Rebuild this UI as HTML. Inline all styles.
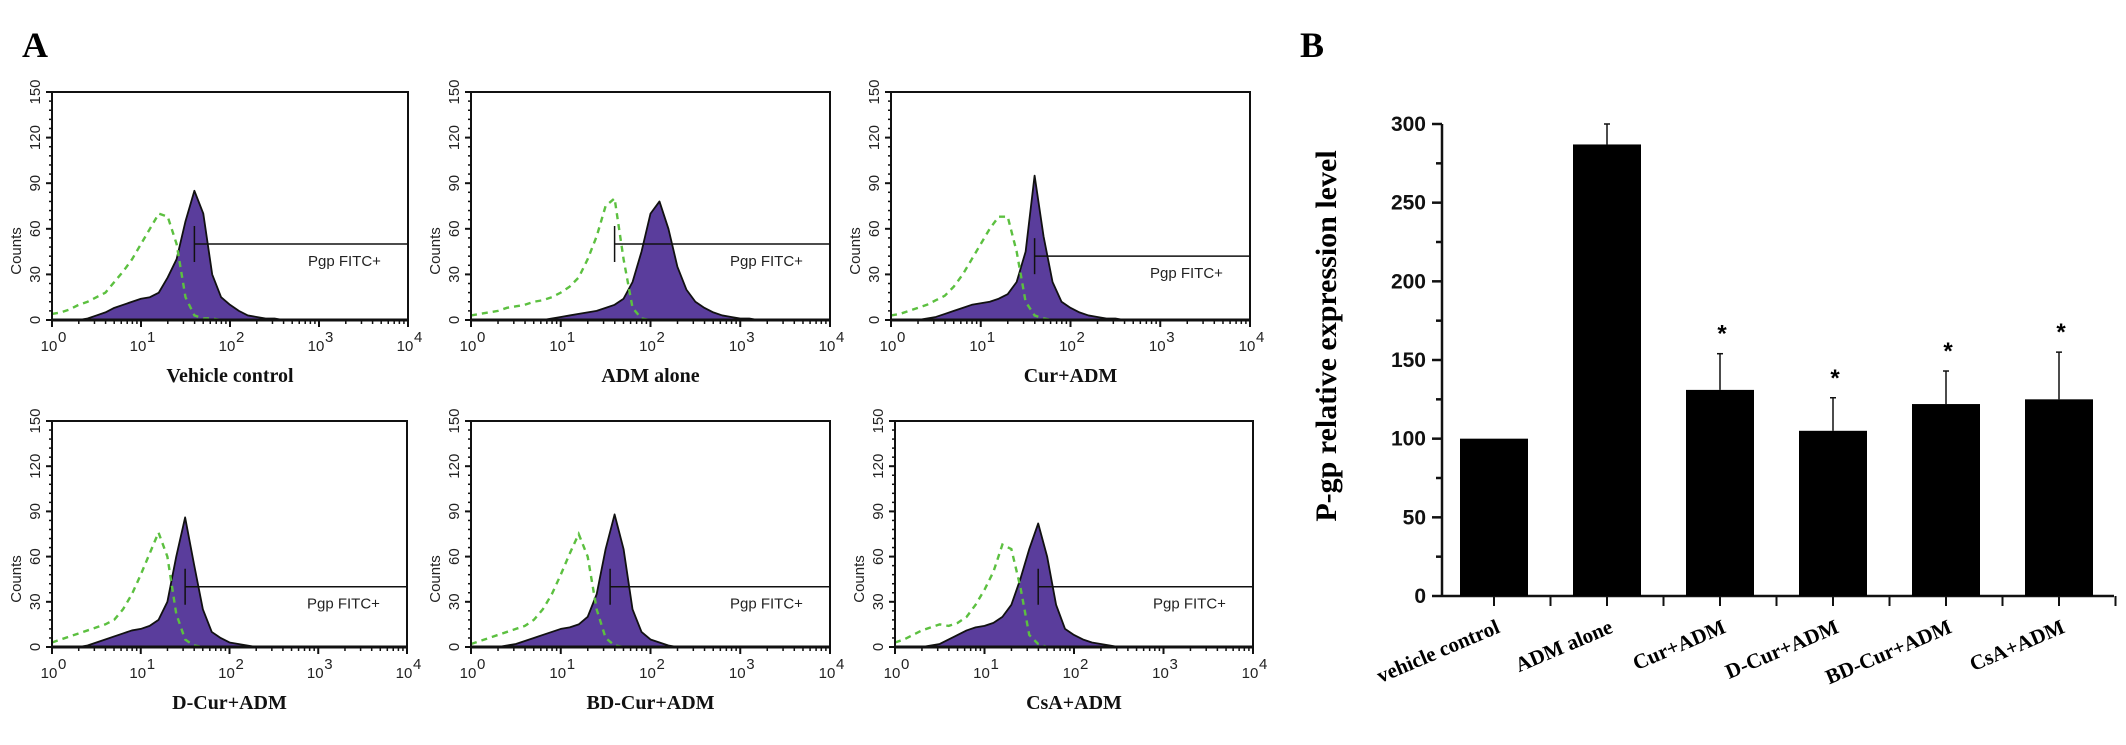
<!DOCTYPE html>
<html><head><meta charset="utf-8"><style>
body{margin:0;background:#fff;width:2126px;height:745px;overflow:hidden}
svg{display:block}
.tick{font-family:"Liberation Sans",sans-serif;font-size:15px;fill:#222}
.cap{font-family:"Liberation Serif",serif;font-weight:bold;font-size:20px;fill:#111}
.yt{font-family:"Liberation Sans",sans-serif;font-weight:bold;font-size:21px;fill:#111}
</style></head><body>
<svg id="fig" width="2126" height="745" viewBox="0 0 2126 745">
<text x="22" y="57" font-family="Liberation Serif,serif" font-weight="bold" font-size="36">A</text>
<text x="1300" y="57" font-family="Liberation Serif,serif" font-weight="bold" font-size="36">B</text>
<g id="hists"></g>
<g id="bars"></g>
</svg>
<script>
// ---- Histogram data (counts at log10 bins 0.0..4.0 step 0.1) ----
const histTitles=["Vehicle control","ADM alone","Cur+ADM","D-Cur+ADM","BD-Cur+ADM","CsA+ADM"];
const purpleVehicle=[0,0,0,0,1,3,5,8,10,12,14,15,18,28,40,65,85,70,30,15,10,6,3,2,1,1,0,0,0,0,0,0,0,0,0,0,0,0,0,0,0];
const greenVehicle=[4,5,7,10,12,15,18,25,32,40,50,60,70,68,50,15,3,1,1,0,0,0,0,0,0,0,0,0,0,0,0,0,0,0,0,0,0,0,0,0,0];
const purpleADM=[0,0,0,0,0,0,0,0,0,1,2,3,4,5,6,8,10,14,25,45,70,78,60,35,20,12,8,5,3,2,1,1,0,0,0,0,0,0,0,0,0];
const greenADM=[3,4,5,6,8,9,10,12,13,15,18,22,28,40,55,75,80,40,8,1,0,0,0,0,0,0,0,0,0,0,0,0,0,0,0,0,0,0,0,0,0];
const purpleCur=[0,0,0,0,1,2,4,6,8,10,11,12,14,17,25,45,95,55,25,12,8,5,3,2,1,1,0,0,0,0,0,0,0,0,0,0,0,0,0,0,0];
const greenCur=[3,4,6,8,10,13,16,22,30,40,50,60,68,68,45,12,3,1,0,0,0,0,0,0,0,0,0,0,0,0,0,0,0,0,0,0,0,0,0,0,0];
const purpleDCur=[0,0,0,0,1,3,5,7,9,11,12,14,18,30,60,86,55,25,10,6,3,2,1,0,0,0,0,0,0,0,0,0,0,0,0,0,0,0,0,0,0];
const greenDCur=[3,5,7,9,11,13,15,18,25,35,48,62,76,60,22,5,1,0,0,0,0,0,0,0,0,0,0,0,0,0,0,0,0,0,0,0,0,0,0,0,0];
const purpleBDCur=[0,0,0,0,1,2,4,6,8,10,12,13,15,20,35,65,88,65,25,10,5,3,1,0,0,0,0,0,0,0,0,0,0,0,0,0,0,0,0,0,0];
const greenBDCur=[2,4,6,8,10,12,14,18,25,35,48,62,75,60,25,6,1,0,0,0,0,0,0,0,0,0,0,0,0,0,0,0,0,0,0,0,0,0,0,0,0];
const purpleCsA=[0,0,0,0,1,2,5,8,11,13,14,16,20,28,45,65,82,60,28,12,8,5,3,2,1,0,0,0,0,0,0,0,0,0,0,0,0,0,0,0,0];
const greenCsA=[3,5,8,11,13,15,14,16,20,28,38,50,68,65,40,8,2,0,0,0,0,0,0,0,0,0,0,0,0,0,0,0,0,0,0,0,0,0,0,0,0];
const gateStart=[1.6,1.6,1.6,1.5,1.55,1.6];
const gateLevel=[50,50,42,40,40,40];
const purpleSeries=[purpleVehicle,purpleADM,purpleCur,purpleDCur,purpleBDCur,purpleCsA];
const greenSeries=[greenVehicle,greenADM,greenCur,greenDCur,greenBDCur,greenCsA];
const yTicks=[0,30,60,90,120,150];
const xTickLabels=["0","1","2","3","4"];

// ---- Bar chart data ----
const barCats=["vehicle control","ADM alone","Cur+ADM","D-Cur+ADM","BD-Cur+ADM","CsA+ADM"];
const barVals=[100,287,131,105,122,125];
const barErr=[0,13,23,21,21,30];
const barSig=[false,false,true,true,true,true];
const barTicks=[0,50,100,150,200,250,300];

const NS="http://www.w3.org/2000/svg";
function mk(tag,attrs,parent){const e=document.createElementNS(NS,tag);for(const k in attrs)e.setAttribute(k,attrs[k]);parent.appendChild(e);return e;}

const panels=[[52,92,408,320],[471,92,830,320],[891,92,1250,320],[52,421,407,647],[471,421,830,647],[895,421,1253,647]];
const hg=document.getElementById('hists');
panels.forEach((p,i)=>{
  const [x0,y0,x1,y1]=p;
  const g=mk('g',{},hg);
  
  
  const sx=v=>x0+(x1-x0)*v/4, sy=c=>y1-(y1-y0)*c/150;
  let d='M'+sx(0)+','+y1;
  purpleSeries[i].forEach((c,k)=>{d+=' L'+sx(k*0.1)+','+sy(c);});
  d+=' L'+sx(4)+','+y1+' Z';
  const pf=mk('path',{d:d,fill:'#5a3d9c',stroke:'#111','stroke-width':1.8,'stroke-linejoin':'round'},g);
  
  
  let dg='';
  greenSeries[i].forEach((c,k)=>{dg+=(k?' L':'M')+sx(k*0.1)+','+sy(c);});
  const gl=mk('path',{d:dg,fill:'none',stroke:'#5cc040','stroke-width':2.4,'stroke-dasharray':'6,5'},g);
  
  
  const fr=mk('rect',{x:x0,y:y0,width:x1-x0,height:y1-y0,fill:'none',stroke:'#111','stroke-width':2},g);
  
  
  mk('line',{x1:x0,y1:y1,x2:x1,y2:y1,stroke:'#111','stroke-width':3},g);
  const gy=sy(gateLevel[i]), gx=sx(gateStart[i]);
  mk('line',{x1:gx,y1:gy,x2:x1,y2:gy,stroke:'#111','stroke-width':1.5},g);
  mk('line',{x1:gx,y1:gy-18,x2:gx,y2:gy+18,stroke:'#111','stroke-width':1.5},g);
  const gt=mk('text',{x:x1-100,y:gy+22,class:'tick','font-size':15},g);gt.textContent='Pgp FITC+';
  
  
  yTicks.forEach(t=>{const y=sy(t);mk('line',{x1:x0-6,y1:y,x2:x0,y2:y,stroke:'#111','stroke-width':2},g);
    const tx=mk('text',{x:x0-12,y:y,class:'tick','text-anchor':'middle',transform:'rotate(-90 '+(x0-12)+' '+y+')'},g);tx.textContent=t;
    
    });
  for(let t=0;t<=150;t+=6){const y=sy(t);mk('line',{x1:x0-3,y1:y,x2:x0,y2:y,stroke:'#111','stroke-width':1.5},g);}
  const cy=(y0+y1)/2+45;
  const cl=mk('text',{x:x0-31,y:cy,class:'tick','text-anchor':'middle',transform:'rotate(-90 '+(x0-31)+' '+cy+')'},g);cl.textContent='Counts';
  
  
  xTickLabels.forEach((l,k)=>{const x=sx(k);mk('line',{x1:x,y1:y1,x2:x,y2:y1+7,stroke:'#111','stroke-width':2},g);
    for(let m=2;m<10&&k<4;m++){const xm=sx(k+Math.log10(m));mk('line',{x1:xm,y1:y1,x2:xm,y2:y1+4,stroke:'#111','stroke-width':1.5},g);}
    const tx=mk('text',{x:x-3,y:y1+31,class:'tick','text-anchor':'middle','font-size':16},g);tx.textContent='10';
    
    
    const sp=mk('text',{x:x+6,y:y1+22,class:'tick','font-size':13},g);sp.textContent=l;});
  const cap=mk('text',{x:(x0+x1)/2,y:y1+62,class:'cap','text-anchor':'middle'},g);cap.textContent=histTitles[i];
  
  
});

// ---- Bar chart ----
const bg=document.getElementById('bars');
const AX=1442, AY=596, AR=2114, PX=(596-124)/300;
const yb=v=>AY-v*PX;
const pitch=113, firstC=1494;
const xc=i=>firstC+pitch*i;
mk('line',{x1:AX,y1:yb(300),x2:AX,y2:AY,stroke:'#111','stroke-width':2.5},bg);
mk('line',{x1:AX,y1:AY,x2:AR,y2:AY,stroke:'#111','stroke-width':2.5},bg);
barTicks.forEach(t=>{const y=yb(t);mk('line',{x1:AX-10,y1:y,x2:AX,y2:y,stroke:'#111','stroke-width':2.5},bg);
  const tx=mk('text',{x:AX-16,y:y+7,class:'yt','text-anchor':'end'},bg);tx.textContent=t;
  
  
  if(t<300){const ym=yb(t+25);mk('line',{x1:AX-6,y1:ym,x2:AX,y2:ym,stroke:'#111','stroke-width':2.5},bg);}});
const yl=mk('text',{x:1336,y:336,'font-family':'Liberation Serif,serif','font-weight':'bold','font-size':30,'text-anchor':'middle',transform:'rotate(-90 1336 336)'},bg);
yl.textContent='P-gp relative expression level';


barCats.forEach((c,i)=>{
  const x=xc(i), w=68;
  if(barErr[i]>0){const te=yb(barVals[i]+barErr[i]);
    mk('line',{x1:x,y1:yb(barVals[i]),x2:x,y2:te,stroke:'#111','stroke-width':1.5},bg);
    mk('line',{x1:x-3,y1:te,x2:x+3,y2:te,stroke:'#111','stroke-width':1.5},bg);}
  const r=mk('rect',{x:x-w/2,y:yb(barVals[i]),width:w,height:barVals[i]*PX,fill:'#000'},bg);
  
  
  mk('line',{x1:x,y1:AY,x2:x,y2:AY+10,stroke:'#111','stroke-width':2},bg);
  mk('line',{x1:x+pitch/2,y1:AY,x2:x+pitch/2,y2:AY+10,stroke:'#111','stroke-width':2},bg);
  if(barSig[i]){const s=mk('text',{x:x+2,y:yb(barVals[i]+barErr[i])-12,'font-family':'Liberation Sans,sans-serif','font-weight':'bold','font-size':24,'text-anchor':'middle'},bg);s.textContent='*';
    
    }
  const lx=x+7, ly=AY+36;
  const l=mk('text',{x:lx,y:ly,'font-family':'Liberation Serif,serif','font-weight':'bold','font-size':21,'text-anchor':'end',transform:'rotate(-23 '+lx+' '+ly+')'},bg);
  l.textContent=c;
  
  
});
</script>
</body></html>
